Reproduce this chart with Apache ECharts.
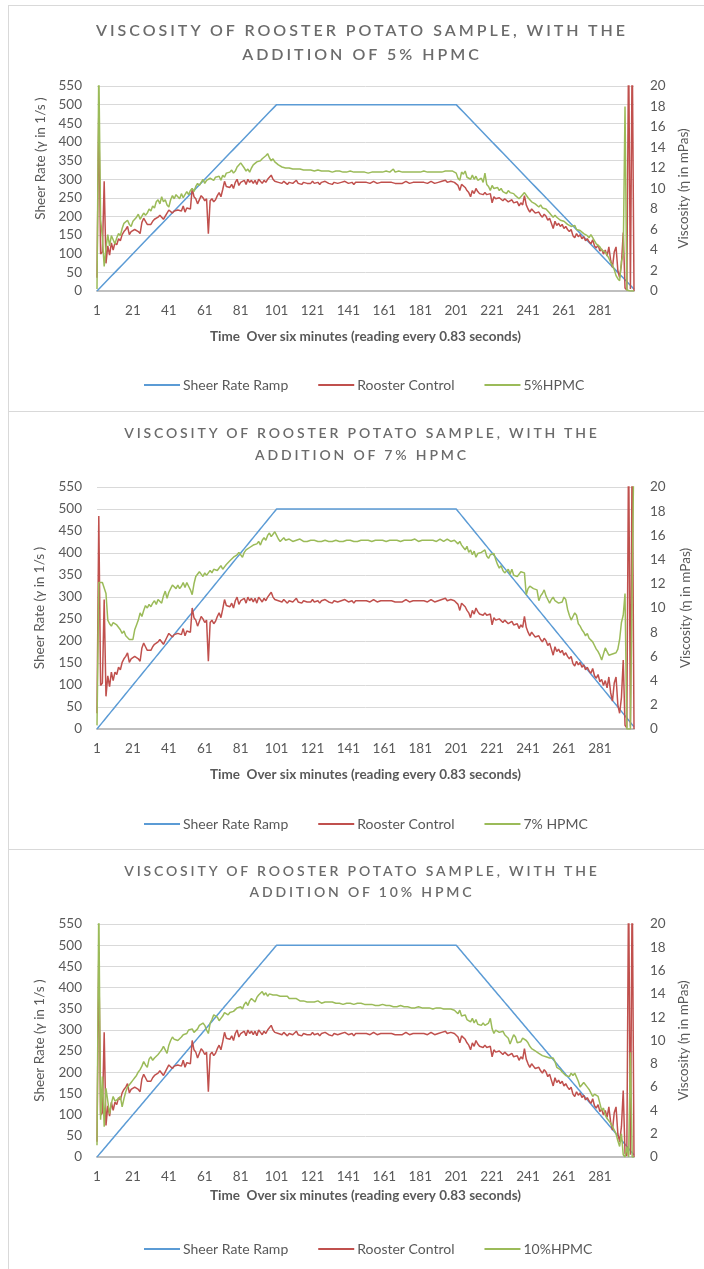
<!DOCTYPE html>
<html>
<head>
<meta charset="utf-8">
<script src="https://cdn.jsdelivr.net/npm/echarts@6/dist/echarts.min.js"></script>
<style>
  html, body { margin: 0; padding: 0; background: #fff; width: 704px; height: 1269px; overflow: hidden; }
  .panel { position: absolute; left: 8px; width: 720px; border: 1px solid #d9d9d9; box-sizing: border-box; background: #fff; }
  .chart { position: absolute; left: 0; width: 704px; }
  .ttl { position: absolute; left: 0; width: 724px; text-align: center; font-family: Lato, "Open Sans", sans-serif;
         font-weight: 600; color: #6b6b6b; white-space: nowrap; }
</style>
</head>
<body>
<div class="panel" style="top:5px;height:407px"></div>
<div class="panel" style="top:411px;height:439px"></div>
<div class="panel" style="top:849px;height:440px"></div>

<div class="chart" id="c1" style="top:0px;height:411px"></div>
<div class="chart" id="c2" style="top:411px;height:438px"></div>
<div class="chart" id="c3" style="top:849px;height:420px"></div>

<div class="ttl" style="top:20px;font-size:16px;line-height:20px;letter-spacing:3.0px">VISCOSITY OF ROOSTER POTATO SAMPLE, WITH THE</div>
<div class="ttl" style="top:44px;font-size:16px;line-height:20px;letter-spacing:3.0px">ADDITION OF 5% HPMC</div>
<div class="ttl" style="top:424px;font-size:14px;line-height:18px;letter-spacing:2.85px">VISCOSITY OF ROOSTER POTATO SAMPLE, WITH THE</div>
<div class="ttl" style="top:446px;font-size:14px;line-height:18px;letter-spacing:2.85px">ADDITION OF 7% HPMC</div>
<div class="ttl" style="top:862px;font-size:14px;line-height:18px;letter-spacing:2.85px">VISCOSITY OF ROOSTER POTATO SAMPLE, WITH THE</div>
<div class="ttl" style="top:883px;font-size:14px;line-height:18px;letter-spacing:2.85px">ADDITION OF 10% HPMC</div>

<script>
// Reading numbers along the time axis (one reading every 0.83 s)
const readings = [];
for (let i = 1; i <= 300; i++) readings.push(String(i));

// Programmed shear-rate ramp (1/s): up, hold, down
const shearRamp = [
  0,5,10,15,20,25,30,35,40,45,50,55,60,65,70,75,80,85,90,95,
  100,105,110,115,120,125,130,135,140,145,150,155,160,165,170,175,180,185,190,195,
  200,205,210,215,220,225,230,235,240,245,250,255,260,265,270,275,280,285,290,295,
  300,305,310,315,320,325,330,335,340,345,350,355,360,365,370,375,380,385,390,395,
  400,405,410,415,420,425,430,435,440,445,450,455,460,465,470,475,480,485,490,495,
  500,500,500,500,500,500,500,500,500,500,500,500,500,500,500,500,500,500,500,500,
  500,500,500,500,500,500,500,500,500,500,500,500,500,500,500,500,500,500,500,500,
  500,500,500,500,500,500,500,500,500,500,500,500,500,500,500,500,500,500,500,500,
  500,500,500,500,500,500,500,500,500,500,500,500,500,500,500,500,500,500,500,500,
  500,500,500,500,500,500,500,500,500,500,500,500,500,500,500,500,500,500,500,500,
  500,495,490,485,480,475,470,465,460,455,450,445,440,435,430,425,420,415,410,405,
  400,395,390,385,380,375,370,365,360,355,350,345,340,335,330,325,320,315,310,305,
  300,295,290,285,280,275,270,265,260,255,250,245,240,235,230,225,220,215,210,205,
  200,195,190,185,180,175,170,165,160,155,150,145,140,135,130,125,120,115,110,105,
  100,95,90,85,80,75,70,65,60,55,50,45,40,35,30,25,20,15,10,5
];

// Viscosity of the untreated Rooster potato sample (mPas)
const roosterControl = [
  1.3,17.6,3.6,3.8,10.7,2.7,4.4,3.5,4.7,4.0,4.7,4.5,5.1,4.9,5.5,5.8,6.0,6.3,5.5,5.8,
  5.9,6.0,6.0,5.8,5.6,6.7,7.1,6.8,6.5,6.6,6.5,6.8,7.0,6.9,7.2,7.4,7.3,7.0,7.0,7.6,
  7.9,7.8,7.6,7.8,7.8,7.9,8.0,7.8,8.3,7.7,8.1,8.2,8.0,10.0,9.2,9.0,8.5,8.4,9.3,9.1,
  8.8,9.0,5.6,8.8,9.0,8.7,8.9,9.3,9.6,9.2,9.9,10.7,10.2,10.3,10.1,10.4,10.0,10.6,10.9,10.3,
  10.6,10.5,10.8,10.4,10.9,10.6,10.8,10.5,10.8,10.4,10.9,10.7,10.5,10.8,10.6,10.9,11.0,11.3,10.9,10.7,
  10.8,10.6,10.7,10.5,10.7,10.6,10.4,10.6,10.7,10.5,10.6,10.8,10.5,10.6,10.4,10.6,10.7,10.5,10.6,10.5,
  10.7,10.5,10.6,10.6,10.4,10.6,10.5,10.7,10.6,10.5,10.6,10.4,10.6,10.7,10.5,10.6,10.6,10.5,10.7,10.6,
  10.5,10.6,10.6,10.4,10.6,10.5,10.6,10.7,10.6,10.5,10.6,10.6,10.5,10.6,10.7,10.6,10.5,10.6,10.6,10.5,
  10.6,10.7,10.6,10.5,10.6,10.6,10.5,10.4,10.5,10.6,10.5,10.6,10.7,10.6,10.5,10.6,10.6,10.5,10.6,10.7,
  10.6,10.5,10.6,10.6,10.5,10.6,10.7,10.6,10.5,10.6,10.6,10.5,10.7,10.6,10.8,10.6,10.5,10.7,10.8,10.6,
  10.7,10.3,9.8,10.4,10.5,10.1,9.8,9.6,9.2,9.8,9.5,10.0,9.7,9.5,9.6,9.4,9.6,9.4,9.3,9.5,
  8.6,9.2,9.0,8.9,9.1,9.0,8.8,9.0,8.9,8.7,8.8,8.9,8.6,8.5,8.7,8.3,8.6,8.4,9.3,8.4,
  8.0,7.7,8.0,7.8,7.6,7.5,7.7,7.4,7.2,7.5,7.3,6.9,7.1,6.6,6.1,6.8,6.4,6.6,6.3,6.5,
  6.1,6.3,6.0,5.8,6.0,5.4,5.2,5.6,5.3,5.5,5.1,5.3,4.9,5.1,4.8,4.6,5.0,4.4,4.2,4.5,
  3.9,4.1,3.6,4.0,3.4,4.3,3.0,2.3,3.8,4.3,2.0,1.3,2.6,5.7,0.3,0.1,24,0.2,24,0
];

// Viscosity with 5% HPMC (mPas)
const hpmc5 = [
  0.2,22,7.0,5.2,2.4,4.2,5.5,4.4,5.4,5.0,4.6,5.2,5.6,5.4,6.1,6.6,6.5,6.9,6.5,6.3,
  6.8,7.0,7.2,7.5,7.0,7.3,7.6,7.4,7.6,8.0,7.8,8.3,8.1,8.7,8.9,8.5,9.2,8.7,8.9,8.4,
  8.2,8.9,9.3,9.0,9.4,9.3,9.0,9.5,9.1,9.0,9.7,9.4,9.8,10.0,9.7,10.2,10.5,10.3,10.6,10.9,
  10.5,10.8,10.7,11.0,10.9,10.8,11.1,11.0,11.2,10.8,11.3,11.1,11.5,11.4,11.6,11.8,11.5,11.7,12.1,12.3,
  12.5,12.6,12.0,11.7,11.9,11.6,12.0,12.3,12.4,12.6,12.5,12.7,12.9,13.0,13.2,13.4,13.0,12.7,12.9,12.6,
  12.5,12.3,12.2,12.1,12.0,12.0,11.9,12.0,12.0,11.9,11.8,11.9,11.8,11.9,11.8,11.8,11.9,11.8,11.7,11.8,
  11.8,11.7,11.8,11.8,11.7,11.7,11.8,11.7,11.6,11.7,11.7,11.6,11.7,11.7,11.6,11.7,11.6,11.6,11.7,11.6,
  11.6,11.7,11.6,11.6,11.7,11.6,11.6,11.6,11.7,11.6,11.6,11.5,11.6,11.6,11.7,11.6,11.6,11.6,11.5,11.6,
  11.6,11.7,11.6,11.6,11.6,11.9,11.6,11.6,11.7,11.6,11.6,11.6,11.6,11.7,11.6,11.6,11.6,11.7,11.6,11.6,
  11.6,11.6,11.7,11.6,11.6,11.6,11.6,11.7,11.6,11.6,11.6,11.7,11.6,11.6,11.7,11.7,11.7,11.8,11.7,11.6,
  11.5,11.0,10.8,11.6,11.4,11.7,11.1,11.0,10.9,11.3,10.9,11.2,10.8,10.8,11.0,10.6,11.5,10.4,10.2,9.8,
  10.3,10.0,9.9,10.1,9.8,10.0,9.7,9.6,9.5,9.8,9.6,9.7,9.5,9.3,9.4,9.0,9.2,9.3,9.6,9.5,
  9.1,8.9,8.7,8.8,8.5,8.4,8.2,8.4,8.1,8.2,8.0,7.8,7.6,7.4,7.2,7.4,7.2,7.3,6.9,7.0,
  6.8,6.7,6.5,6.6,6.3,6.2,6.4,6.0,6.1,5.9,5.8,5.6,5.7,5.4,5.2,5.5,5.2,4.9,4.6,4.5,
  4.3,4.0,4.1,3.8,3.5,3.2,2.8,2.5,2.1,1.5,1.2,1.0,2.9,3.5,18.0,0.1,0,0,0,0
];

// Viscosity with 7% HPMC (mPas)
const hpmc7 = [
  0.3,12.1,12.1,12.1,12.0,11.2,9.0,8.7,8.5,8.8,8.9,8.6,8.5,8.2,7.9,8.1,7.7,7.6,7.4,7.3,
  7.4,8.2,8.6,9.0,9.6,9.3,9.8,10.2,10.0,10.3,10.1,10.4,10.6,10.3,10.7,10.7,10.4,11.0,11.4,10.8,
  11.3,11.6,11.9,11.8,11.6,11.9,11.6,11.8,12.1,11.7,12.1,11.8,11.5,11.1,12.0,12.6,12.5,13.0,12.8,12.6,
  12.9,12.7,12.9,13.1,12.9,13.2,13.3,13.1,13.3,13.5,13.2,13.4,13.6,13.6,13.9,14.0,14.2,14.1,14.4,14.6,
  14.5,14.2,14.6,14.8,14.7,15.0,14.9,15.2,15.1,15.3,15.5,15.2,15.6,15.8,15.6,16.0,16.2,15.9,16.1,16.3,
  16.0,15.7,15.5,15.6,15.8,15.6,15.5,15.7,15.6,15.5,15.6,15.6,15.5,15.7,15.6,15.5,15.6,15.5,15.6,15.6,
  15.5,15.6,15.6,15.5,15.6,15.5,15.5,15.6,15.6,15.5,15.6,15.5,15.5,15.6,15.6,15.5,15.6,15.5,15.6,15.6,
  15.5,15.6,15.6,15.5,15.6,15.5,15.6,15.6,15.5,15.6,15.5,15.6,15.6,15.5,15.6,15.6,15.5,15.6,15.5,15.6,
  15.6,15.5,15.6,15.6,15.5,15.6,15.5,15.6,15.6,15.5,15.6,15.6,15.5,15.6,15.5,15.6,15.6,15.7,15.6,15.5,
  15.6,15.6,15.5,15.6,15.7,15.6,15.5,15.6,15.6,15.5,15.6,15.7,15.6,15.5,15.6,15.7,15.6,15.5,15.6,15.6,
  15.6,15.3,15.5,15.2,15.0,14.8,15.1,14.6,14.8,14.4,14.7,14.2,14.5,14.4,14.6,14.5,14.8,14.3,14.1,14.4,
  14.3,14.5,14.0,13.6,13.3,13.5,13.1,12.9,13.0,13.2,12.8,13.2,12.7,12.8,12.6,12.8,13.0,13.0,12.9,11.1,
  11.6,11.8,11.9,11.6,11.7,11.5,10.6,11.0,11.2,11.5,11.0,10.7,10.4,10.7,10.9,10.6,10.5,10.4,10.3,10.5,
  10.9,10.7,9.9,9.4,9.0,9.3,9.6,9.4,8.7,8.5,8.2,8.0,7.7,7.9,7.5,7.4,7.2,6.9,6.6,6.4,
  6.1,5.7,6.2,6.7,6.4,6.1,6.0,6.2,6.1,6.3,6.6,7.4,8.8,9.4,11.2,0,0,0,0,24
];

// Viscosity with 10% HPMC (mPas)
const hpmc10 = [
  1.0,22,3.2,6.9,2.6,5.9,5.8,3.7,4.6,5.2,4.8,4.7,5.0,5.2,4.3,5.0,5.6,6.0,6.2,6.4,
  6.6,6.8,7.0,7.3,7.5,7.8,8.2,7.9,7.7,8.4,8.6,8.3,8.5,8.4,8.8,9.0,9.2,9.5,9.2,8.9,
  9.6,10.0,10.3,10.1,10.2,10.0,10.0,10.3,10.5,10.4,10.6,10.9,11.0,11.0,10.7,10.7,11.0,11.3,11.2,11.5,
  11.3,10.9,10.6,11.5,11.8,12.2,12.2,12.0,11.7,11.9,12.1,12.4,12.5,12.2,12.4,12.5,12.5,12.6,12.8,12.9,
  12.9,12.7,13.1,13.3,13.0,13.4,13.6,13.5,13.3,13.7,13.9,14.0,14.2,13.9,14.1,13.8,14.0,14.1,13.9,14.0,
  13.9,14.0,13.8,13.9,13.8,13.7,13.8,13.6,13.7,13.6,13.5,13.6,13.5,13.4,13.5,13.4,13.5,13.3,13.4,13.3,
  13.4,13.3,13.3,13.4,13.3,13.2,13.3,13.3,13.2,13.3,13.2,13.3,13.2,13.2,13.1,13.2,13.2,13.1,13.2,13.2,
  13.1,13.2,13.2,13.1,13.2,13.2,13.1,13.2,13.1,13.1,13.2,13.1,13.0,13.1,13.1,13.0,13.1,13.0,13.0,13.1,
  13.0,13.0,12.9,13.0,13.0,12.9,13.0,12.9,12.9,13.0,12.9,12.9,12.8,12.9,12.9,12.8,12.9,12.8,12.8,12.9,
  12.8,12.8,12.9,12.8,12.7,12.8,12.8,12.7,12.8,12.8,12.7,12.8,12.7,12.7,12.8,12.7,12.6,12.7,12.6,12.6,
  12.5,12.3,12.6,12.1,12.0,12.2,11.8,11.9,11.6,11.9,11.5,11.8,11.4,11.5,11.3,11.5,11.3,11.2,11.5,11.9,
  11.0,10.6,10.9,10.8,10.7,10.6,10.8,10.5,10.4,10.2,9.7,10.1,10.5,10.3,9.8,9.7,9.9,10.2,10.1,10.0,
  9.8,9.5,9.3,9.4,9.1,9.0,8.9,8.9,8.7,8.8,8.6,8.6,8.5,8.45,8.5,8.2,7.7,7.6,7.5,7.3,
  7.2,7.0,7.1,6.9,7.2,7.0,7.2,7.3,6.5,6.0,6.2,6.4,6.3,6.0,5.8,5.5,5.2,5.4,5.3,5.2,
  4.6,4.0,4.2,3.6,3.3,3.1,2.9,2.6,2.3,2.0,1.4,0.9,2.0,0.2,0,0.9,0,9.0,0,0
];

const BLUE = '#5b9bd5', RED = '#c0504d', GREEN = '#9bbb59';
const FONT = 'Lato, "Open Sans", sans-serif';
const GREY = '#595959';

function buildOption(cfg) {
  return {
    animation: false,
    textStyle: { fontFamily: FONT },
    grid: { left: 97, width: 537, top: cfg.gridTop, height: cfg.gridHeight, containLabel: false },
    legend: {
      top: cfg.legendTop, left: 139, itemGap: 30, itemWidth: 36, itemHeight: 2, icon: 'rect',
      textStyle: { color: GREY, fontSize: 14, fontFamily: FONT, padding: [0, 0, 0, -2] },
      data: ['Sheer Rate Ramp', 'Rooster Control', cfg.seriesName]
    },
    xAxis: {
      type: 'category', data: readings, boundaryGap: false,
      name: 'Time  Over six minutes (reading every 0.83 seconds)',
      nameLocation: 'middle', nameGap: cfg.xNameGap,
      nameTextStyle: { color: GREY, fontWeight: 'bold', fontSize: 13.5, fontFamily: FONT },
      axisLine: { lineStyle: { color: '#bfbfbf', width: 2 } },
      axisTick: { show: false },
      axisLabel: { interval: 19, color: GREY, fontSize: 13.5, margin: 13, fontFamily: FONT }
    },
    yAxis: [
      {
        type: 'value', min: 0, max: 550, interval: 50,
        name: 'Sheer Rate (\u03b3 in 1/s )', nameLocation: 'middle', nameGap: cfg.leftNameGap, nameRotate: 90,
        nameTextStyle: { color: GREY, fontSize: 13.5, fontFamily: FONT, padding: cfg.leftNamePad },
        axisLine: { show: false }, axisTick: { show: false },
        axisLabel: { color: GREY, fontSize: 13.5, margin: 15, fontFamily: FONT },
        splitLine: { lineStyle: { color: '#d9d9d9', width: 1 } }
      },
      {
        type: 'value', min: 0, max: 20, interval: 2, position: 'right',
        name: 'Viscosity (\u03b7 in mPas)', nameLocation: 'middle', nameGap: cfg.rightNameGap, nameRotate: 90,
        nameTextStyle: { color: GREY, fontSize: 13.5, fontFamily: FONT },
        axisLine: { show: false }, axisTick: { show: false },
        axisLabel: { color: GREY, fontSize: 13.5, margin: 16, fontFamily: FONT },
        splitLine: { show: false }
      }
    ],
    series: [
      { name: 'Sheer Rate Ramp', type: 'line', yAxisIndex: 0, data: shearRamp, symbol: 'none', showSymbol: false,
        lineStyle: { color: BLUE, width: 1.5 }, itemStyle: { color: BLUE } },
      { name: 'Rooster Control', type: 'line', yAxisIndex: 1, data: roosterControl, symbol: 'none', showSymbol: false,
        lineStyle: { color: RED, width: 1.5 }, itemStyle: { color: RED } },
      { name: cfg.seriesName, type: 'line', yAxisIndex: 1, data: cfg.data, symbol: 'none', showSymbol: false,
        lineStyle: { color: GREEN, width: 1.5 }, itemStyle: { color: GREEN } }
    ]
  };
}

const charts = [
  { id: 'c1', seriesName: '5%HPMC', data: hpmc5, gridTop: 86, gridHeight: 205, legendTop: 373,
    xNameGap: 39, leftNameGap: 45, leftNamePad: [0, 0, 0, 60], rightNameGap: 35 },
  { id: 'c2', seriesName: '7% HPMC', data: hpmc7, gridTop: 76, gridHeight: 242, legendTop: 401,
    xNameGap: 39, leftNameGap: 50, leftNamePad: 0, rightNameGap: 45 },
  { id: 'c3', seriesName: '10%HPMC', data: hpmc10, gridTop: 75, gridHeight: 233, legendTop: 388,
    xNameGap: 31, leftNameGap: 50, leftNamePad: 0, rightNameGap: 42 }
];

charts.forEach(function (cfg) {
  const chart = echarts.init(document.getElementById(cfg.id), null, { renderer: 'canvas' });
  chart.setOption(buildOption(cfg));
});
</script>
</body>
</html>
